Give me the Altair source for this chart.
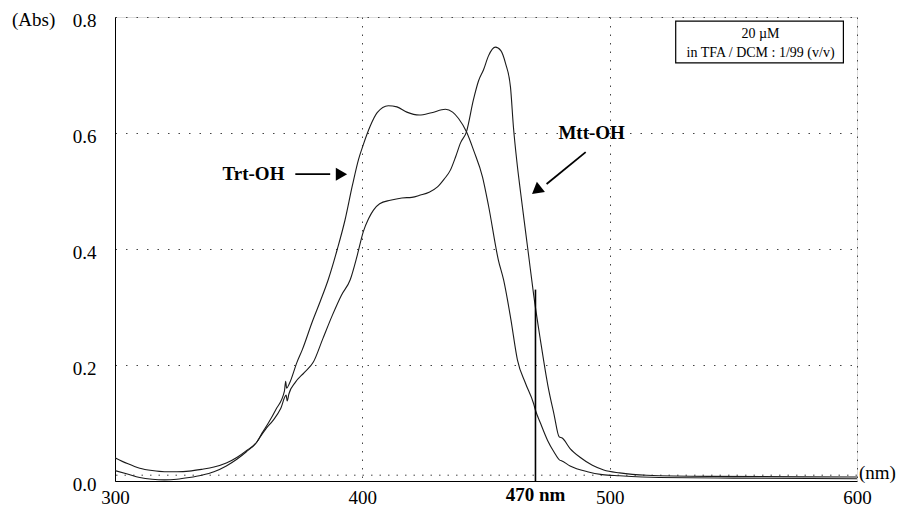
import altair as alt
import pandas as pd

# ---- data ----
trt_wl = [300, 305, 310, 315, 320, 325, 330, 335, 340, 345, 349.4, 353, 357.5, 359.5, 362, 365,
          368.5, 369.0, 369.4, 370.5, 373.6, 375.7, 379.8, 383, 386.2, 389.9, 393, 396, 398.5,
          400.4, 403.2, 406, 410.5, 414, 418, 423, 428, 433.6, 436.5, 438.9, 442.1, 445, 448.6,
          451, 455, 457.1, 460, 462.7, 466, 469.2, 470, 472, 474.9, 477.5, 479.8, 480.5, 484,
          491, 497, 504, 520, 550, 600]
trt_abs = [0.040, 0.030, 0.022, 0.018, 0.016, 0.016, 0.017, 0.020, 0.024, 0.031, 0.041, 0.052,
           0.068, 0.083, 0.100, 0.123, 0.155, 0.172, 0.160, 0.168, 0.205, 0.226, 0.275, 0.310,
           0.347, 0.400, 0.450, 0.510, 0.555, 0.580, 0.612, 0.635, 0.647, 0.645, 0.636, 0.631,
           0.635, 0.641, 0.636, 0.625, 0.602, 0.570, 0.524, 0.475, 0.381, 0.347, 0.280, 0.209,
           0.168, 0.134, 0.122, 0.100, 0.070, 0.050, 0.036, 0.035, 0.026, 0.016, 0.011, 0.009,
           0.006, 0.005, 0.004]

mtt_wl = [300, 305, 310, 315, 320, 325, 330, 335, 340, 345, 349.4, 353, 357.5, 358.7, 361, 364,
          367, 369.2, 369.6, 370.3, 372.9, 376.5, 380.2, 384, 387.9, 391.5, 395.1, 398, 400.4,
          402.5, 404.5, 407, 411.3, 416, 420, 423.5, 427, 430.4, 433, 435.6, 437.8, 439.7, 442.1,
          444.9, 447, 449, 451, 453.8, 456, 457.9, 459.9, 461.1, 462.5, 464, 466, 467.2, 469.3,
          472, 475, 477.5, 479.6, 480.8, 484, 488.3, 493, 497.6, 504, 515, 540, 600]
mtt_abs = [0.018, 0.012, 0.006, 0.003, 0.002, 0.003, 0.006, 0.010, 0.016, 0.026, 0.038, 0.050,
           0.068, 0.076, 0.090, 0.105, 0.125, 0.148, 0.138, 0.150, 0.170, 0.187, 0.205, 0.245,
           0.286, 0.320, 0.347, 0.390, 0.430, 0.452, 0.467, 0.478, 0.484, 0.488, 0.489, 0.493,
           0.498, 0.507, 0.520, 0.536, 0.560, 0.583, 0.602, 0.657, 0.690, 0.709, 0.733, 0.748,
           0.742, 0.720, 0.679, 0.610, 0.550, 0.497, 0.430, 0.390, 0.320, 0.243, 0.165, 0.115,
           0.076, 0.074, 0.056, 0.040, 0.027, 0.019, 0.014, 0.010, 0.008, 0.007]

x_ticks = [300, 400, 500, 600]
y_ticks = [0.0, 0.2, 0.4, 0.6, 0.8]
marker_wl = [470]
marker_top = [0.33]
marker_label = ["470 nm"]
box_lines = ["20 \u00b5M", "in TFA / DCM : 1/99 (v/v)"]

FONT = "'Liberation Serif', 'Times New Roman', Times, serif"

df = pd.concat([
    pd.DataFrame({"wl": trt_wl, "abs": trt_abs, "series": "Trt-OH"}),
    pd.DataFrame({"wl": mtt_wl, "abs": mtt_abs, "series": "Mtt-OH"}),
])

xs = alt.Scale(domain=[300, 600], nice=False, zero=False)
ys = alt.Scale(domain=[0, 0.8], nice=False)

xax = alt.Axis(values=x_ticks, title=None, ticks=False, labelFontSize=19, labelFont=FONT,
               labelPadding=7, labelColor="black", domainColor="black", grid=True,
               gridDash=[1.5, 7], gridColor="#444", gridWidth=1, labelFlush=False)
yax = alt.Axis(values=y_ticks, title=None, ticks=False, labelFontSize=19, labelFont=FONT,
               labelPadding=19, labelColor="black", domainColor="black", format=".1f", grid=True,
               gridDash=[1.5, 9], gridColor="#444", gridWidth=1, labelFlush=False, labelOffset=3)

base = alt.Chart(df)
lines = base.mark_line(color="#1a1a1a", strokeWidth=1.1, clip=True,
                       interpolate="monotone").encode(
    x=alt.X("wl:Q", scale=xs, axis=xax),
    y=alt.Y("abs:Q", scale=ys, axis=yax),
    detail="series:N",
)

# baseline dotted line slightly above zero
base_df = pd.DataFrame({"y": [0.01]})
baseline = alt.Chart(base_df).mark_rule(strokeDash=[1.5, 7], color="#444").encode(
    y=alt.Y("y:Q", scale=ys)
)

mk = pd.DataFrame({"wl": marker_wl, "top": marker_top, "bot": [0.0], "lab": marker_label,
                   "ly": [-0.024]})
marker = alt.Chart(mk).mark_rule(color="black", strokeWidth=1.6).encode(
    x=alt.X("wl:Q", scale=xs), y=alt.Y("bot:Q", scale=ys), y2="top:Q"
)
marker_text = alt.Chart(mk).mark_text(font=FONT, fontSize=19, fontWeight="bold",
                                      baseline="middle", align="center").encode(
    x=alt.X("wl:Q", scale=xs), y=alt.Y("ly:Q", scale=ys), text="lab:N"
)

# series labels
lab_df = pd.DataFrame({"wl": [368.5, 492.7], "abs": [0.529, 0.600], "t": ["Trt-OH", "Mtt-OH"]})
lab_trt = alt.Chart(lab_df.iloc[[0]]).mark_text(font=FONT, fontSize=19, fontWeight="bold",
                                               baseline="middle", align="right").encode(
    x=alt.X("wl:Q", scale=xs), y=alt.Y("abs:Q", scale=ys), text="t:N")
lab_mtt = alt.Chart(lab_df.iloc[[1]]).mark_text(font=FONT, fontSize=19, fontWeight="bold",
                                               baseline="middle", align="center").encode(
    x=alt.X("wl:Q", scale=xs), y=alt.Y("abs:Q", scale=ys), text="t:N")

# arrows
arr_df = pd.DataFrame({"x1": [372.9, 490.3], "y1": [0.529, 0.567],
                       "x2": [387.0, 474.5], "y2": [0.529, 0.512]})
arrow_lines = alt.Chart(arr_df).mark_rule(color="black", strokeWidth=1.8).encode(
    x=alt.X("x1:Q", scale=xs), y=alt.Y("y1:Q", scale=ys), x2="x2:Q", y2="y2:Q")
head_df = pd.DataFrame({"x": [390.8, 471.0], "y": [0.529, 0.503], "ang": [90, 231.7]})
heads = alt.Chart(head_df).mark_point(shape="triangle", filled=True, color="black",
                                      opacity=1, size=170).encode(
    x=alt.X("x:Q", scale=xs), y=alt.Y("y:Q", scale=ys), angle=alt.Angle("ang:Q", scale=None))

# info box
box_df = pd.DataFrame({"x": [526.7], "x2": [594.5], "y": [0.721], "y2": [0.793]})
box = alt.Chart(box_df).mark_rect(fill="white", stroke="black", strokeWidth=1.2).encode(
    x=alt.X("x:Q", scale=xs), x2="x2:Q", y=alt.Y("y:Q", scale=ys), y2="y2:Q")
bt_df = pd.DataFrame({"x": [561.0, 561.0], "y": [0.771, 0.738], "t": box_lines})
box_text = alt.Chart(bt_df).mark_text(font=FONT, fontSize=14, baseline="middle",
                                      align="center").encode(
    x=alt.X("x:Q", scale=xs), y=alt.Y("y:Q", scale=ys), text="t:N")

# unit labels
unit_df = pd.DataFrame({"t": ["(Abs)"]})
abs_lab = alt.Chart(unit_df).mark_text(font=FONT, fontSize=19, baseline="middle",
                                       align="left").encode(
    x=alt.value(-103), y=alt.value(3), text="t:N")
nm_df = pd.DataFrame({"t": ["(nm)"]})
nm_lab = alt.Chart(nm_df).mark_text(font=FONT, fontSize=19, baseline="middle",
                                    align="left").encode(
    x=alt.value(744), y=alt.value(456), text="t:N")

chart = alt.layer(
    baseline, lines, marker, marker_text, lab_trt, lab_mtt, arrow_lines, heads,
    box, box_text, abs_lab, nm_lab
).properties(
    width=742, height=464,
    padding={"left": 107, "top": 9, "right": 41, "bottom": 30},
    autosize=alt.AutoSizeParams(type="none"),
).configure_view(
    stroke="black", strokeWidth=1.2
).configure(background="white")

chart.save("out.html", embed_options={"renderer": "svg", "actions": False})
